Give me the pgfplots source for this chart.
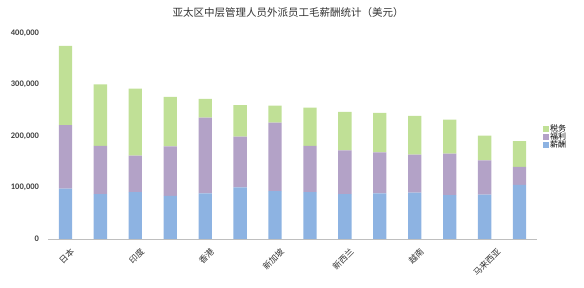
\documentclass[border=0pt]{standalone}
\usepackage{pgfplots}
\usepackage{pgfplotstable}
\usepackage{fontspec}
\pgfplotsset{compat=1.18}
\setmainfont{Noto Sans CJK SC}
\newfontfamily\numfont{Carlito}
\definecolor{cblue}{HTML}{8DB3E2}
\definecolor{cpurple}{HTML}{B3A2C7}
\definecolor{cgreen}{HTML}{C0E096}
\pgfplotstableread{
x sal ben tax
0 98000 123000 154000
1 87000 94000 119000
2 91000 71000 130000
3 83500 96500 96000
4 88500 147000 36500
5 100000 99000 61000
6 93000 133000 33000
7 91000 90000 74000
8 87000 85000 75000
9 88500 79500 77000
10 90000 74000 75000
11 85000 81000 66000
12 86000 66600 48000
13 105000 35000 50000
}\data
\begin{document}
\begin{tikzpicture}[x=1pt,y=1pt]
\path[use as bounding box] (0,0) rectangle (584,288);
\node[font=\fontsize{10.5}{12}\selectfont, text=black!80] at (288,275) {亚太区中层管理人员外派员工毛薪酬统计（美元）};
\begin{axis}[
  at={(48pt,49pt)}, anchor=south west,
  scale only axis, width=489pt, height=206pt,
  ybar stacked, bar width=13.3pt,
  xmin=-0.5, xmax=13.5, ymin=0, ymax=400000,
  axis y line*=left, axis x line*=bottom,
  y axis line style={draw=none},
  x axis line style={draw=black!25, line width=0.8pt, -},
  ytick={0,100000,200000,300000,400000},
  scaled y ticks=false,
  yticklabel style={font=\numfont\bfseries\fontsize{8.5}{10}\selectfont, text=black!75, xshift=-5.5pt,
    /pgf/number format/fixed, /pgf/number format/1000 sep={,}, /pgf/number format/assume math mode=true},
  xtick={0,2,4,6,8,10},
  xticklabels={日本,印度,香港,新加坡,新西兰,越南},
  xticklabel style={font=\fontsize{8.5}{9}\selectfont, text=black!80, inner sep=0pt, xshift=4.5pt, yshift=-8pt, rotate=45, anchor=north east},
  extra x ticks={12},
  extra x tick labels={马来西亚},
  extra x tick style={xticklabel style={xshift=5pt, yshift=-5pt}},
  major tick length=0pt,
  legend style={at={(1.011,0.495)}, anchor=west, draw=none, fill=none,
    font=\fontsize{8}{8}\selectfont, inner sep=0pt, row sep=1pt,
    nodes={inner sep=0pt, text height=6pt, text depth=1pt},
    /tikz/every odd column/.append style={column sep=1pt}},
  legend cell align=left,
  reverse legend,
  legend image code/.code={\fill[#1] (0pt,-2.5pt) rectangle (6.5pt,3pt);},
  clip=false,
]
\addplot[fill=cblue, draw=none] table[x=x, y=sal] {\data};
\addplot[fill=cpurple, draw=none] table[x=x, y=ben] {\data};
\addplot[fill=cgreen, draw=none] table[x=x, y=tax] {\data};
\legend{薪酬,福利,税务}
\end{axis}
\end{tikzpicture}
\end{document}
